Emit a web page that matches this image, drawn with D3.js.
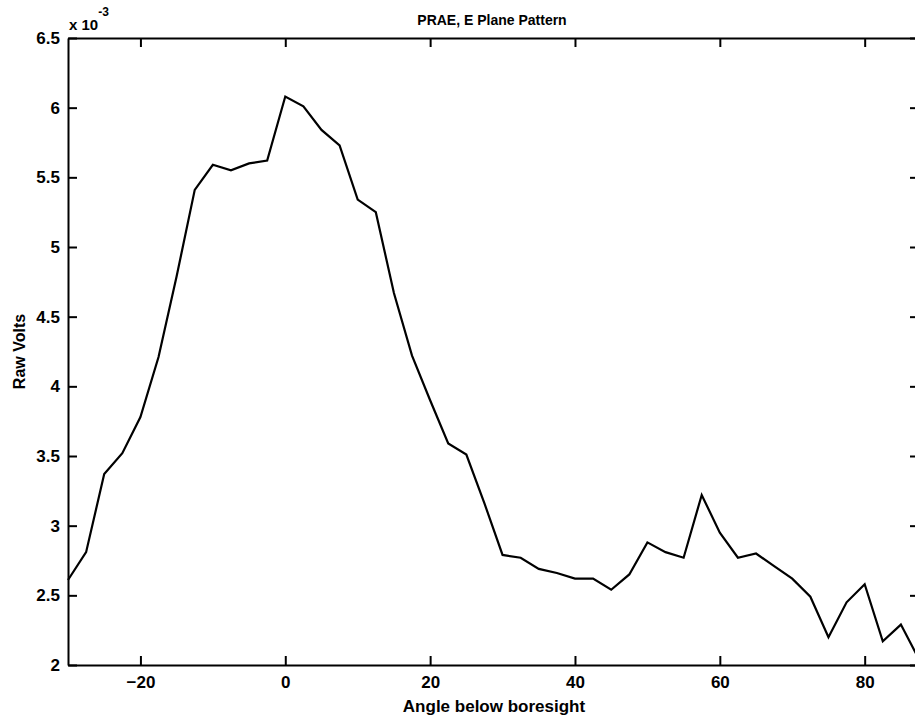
<!DOCTYPE html>
<html>
<head>
<meta charset="utf-8">
<script src="https://cdn.jsdelivr.net/npm/d3@7"></script>
<style>
  body { margin: 0; background: #fff; }
  #canvas { width: 915px; height: 719px; overflow: hidden; }
  text { font-family: "Liberation Sans", Arial, sans-serif; fill: #000; }
  .axis path, .axis line { stroke: #000; stroke-width: 2px; }
  .axis text { font-size: 17px; font-weight: bold; }
</style>
</head>
<body>
<div id="canvas" class="canvas"></div>
<script>
// angle below boresight (deg)
var angles = [-30, -27.5, -25, -22.5, -20, -17.5, -15, -12.5, -10, -7.5, -5, -2.5,
  0, 2.5, 5, 7.5, 10, 12.5, 15, 17.5, 20, 22.5, 25, 27.5,
  30, 32.5, 35, 37.5, 40, 42.5, 45, 47.5, 50, 52.5, 55, 57.5,
  60, 62.5, 65, 67.5, 70, 72.5, 75, 77.5, 80, 82.5, 85, 87.5];

// raw volts, x 10^-3
var volts = [2.61, 2.81, 3.37, 3.52, 3.78, 4.21, 4.79, 5.41, 5.59, 5.55, 5.60, 5.62,
  6.08, 6.01, 5.84, 5.73, 5.34, 5.25, 4.67, 4.22, 3.90, 3.59, 3.51, 3.16,
  2.79, 2.77, 2.69, 2.66, 2.62, 2.62, 2.54, 2.65, 2.88, 2.81, 2.77, 3.22,
  2.95, 2.77, 2.80, 2.71, 2.62, 2.49, 2.20, 2.45, 2.58, 2.17, 2.29, 2.04];

var xTicks = [-20, 0, 20, 40, 60, 80];
var yTicks = [2, 2.5, 3, 3.5, 4, 4.5, 5, 5.5, 6, 6.5];

var m = {t:38, r:-4, b:54, l:68};
var outerWidth = 915, outerHeight = 719;
var w = outerWidth - m.l - m.r,
    h = outerHeight - m.t - m.b;

var svg = d3.select('.canvas')
  .append('svg')
  .attr('width', outerWidth)
  .attr('height', outerHeight);

var plot = svg.append('g')
  .attr('transform', 'translate(' + m.l + ',' + m.t + ')');

var scaleX = d3.scaleLinear().domain([-30, 87.5]).range([0, w]);
var scaleY = d3.scaleLinear().domain([2, 6.5]).range([h, 0]);

// matlab style: ticks point inward on all four sides
var tl = 9;
plot.append('g').attr('class', 'axis')
  .attr('transform', 'translate(0,' + h + ')')
  .call(d3.axisBottom(scaleX).tickValues(xTicks).tickSizeInner(-tl).tickSizeOuter(0).tickPadding(11).tickFormat(d3.format('d')));
plot.append('g').attr('class', 'axis')
  .call(d3.axisTop(scaleX).tickValues(xTicks).tickSizeInner(-tl).tickSizeOuter(0).tickFormat(''));
plot.append('g').attr('class', 'axis')
  .call(d3.axisLeft(scaleY).tickValues(yTicks).tickSizeInner(-tl).tickSizeOuter(0).tickPadding(8).tickFormat(d3.format('')));
plot.append('g').attr('class', 'axis')
  .attr('transform', 'translate(' + w + ',0)')
  .call(d3.axisRight(scaleY).tickValues(yTicks).tickSizeInner(-tl).tickSizeOuter(0).tickFormat(''));

// the data line
var line = d3.line()
  .x(function(d){ return scaleX(d[0]); })
  .y(function(d){ return scaleY(d[1]); });

plot.append('path')
  .datum(d3.zip(angles, volts))
  .attr('fill', 'none')
  .attr('stroke', '#000')
  .attr('stroke-width', 2.2)
  .attr('d', line);

// exponent label
var ex = svg.append('text')
  .attr('x', 69).attr('y', 30)
  .style('font-size', '15px').style('font-weight', 'bold');
ex.append('tspan').text('x 10');
ex.append('tspan').attr('dy', -14).style('font-size', '12px').text('-3');

// title and axis labels
svg.append('text')
  .attr('x', 492).attr('y', 25)
  .attr('text-anchor', 'middle')
  .style('font-size', '14px').style('font-weight', 'bold')
  .text('PRAE, E Plane Pattern');

svg.append('text')
  .attr('x', 494).attr('y', 712)
  .attr('text-anchor', 'middle')
  .style('font-size', '17px').style('font-weight', 'bold')
  .text('Angle below boresight');

svg.append('text')
  .attr('transform', 'translate(25,' + (m.t + h/2) + ') rotate(-90)')
  .attr('text-anchor', 'middle')
  .style('font-size', '16px').style('font-weight', 'bold')
  .text('Raw Volts');
</script>
</body>
</html>
